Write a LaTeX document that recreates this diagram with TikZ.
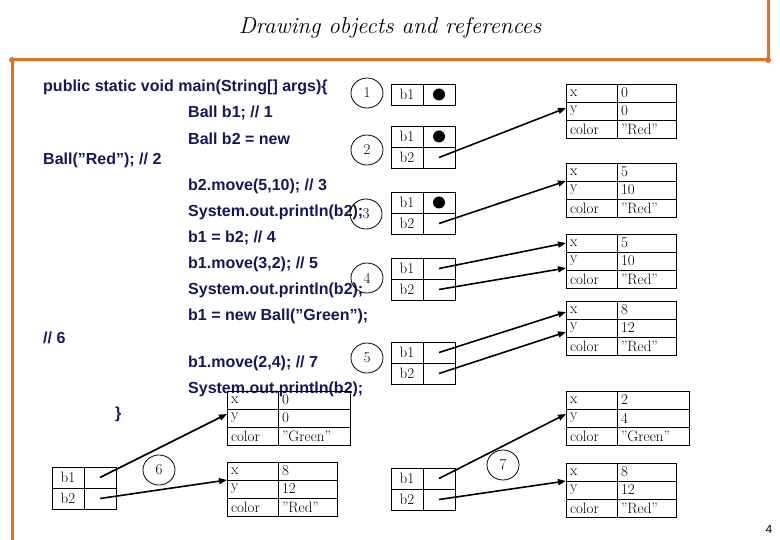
\documentclass[tikz,border=0pt]{standalone}
\usepackage{fontspec}
\usepackage{tikz}
\usetikzlibrary{shapes.geometric, arrows.meta, positioning}
\newfontfamily\codefont{Liberation Sans}
\definecolor{slideorange}{RGB}{230,112,30}
\definecolor{codenavy}{RGB}{22,22,92}

\tikzset{
  frame/.style={draw=slideorange, line width=3pt, line cap=round},
  codeline/.style={anchor=west, inner sep=0pt, text=codenavy, font=\codefont\fontsize{16}{19}\bfseries},
  stepmark/.style={draw, ellipse, line width=0.8pt, minimum width=32pt, minimum height=30pt, inner sep=0pt, font=\fontsize{15}{17}\selectfont},
  varname/.style={draw, line width=0.9pt, outer sep=0pt, inner sep=0pt, minimum width=32pt, minimum height=21pt, font=\fontsize{15}{17}\selectfont},
  varcell/.style={varname},
  dot/.style={circle, fill=black, inner sep=0pt, minimum size=12pt},
  fieldname/.style={draw, line width=0.9pt, outer sep=0pt, inner xsep=4pt, inner ysep=0pt, minimum height=18pt, text width=43pt, align=left, font=\fontsize{15}{17}\selectfont},
  fieldval/.style={fieldname},
  ptr/.style={line width=1.6pt, -{Triangle[length=8pt,width=6pt]}}
}

% one Ball object: name, top left corner, text width of value column, x, y, color
\newcommand{\ballobj}[7]{%
  \node[fieldname, anchor=north west] (#1x) at (#2,#3) {x};
  \node[fieldname, below=0pt of #1x] (#1y) {y};
  \node[fieldname, below=0pt of #1y] (#1c) {color};
  \node[fieldval, text width=#4, right=0pt of #1x] (#1xv) {#5};
  \node[fieldval, text width=#4, right=0pt of #1y] (#1yv) {#6};
  \node[fieldval, text width=#4, right=0pt of #1c] (#1cv) {#7};
}
% the two references b1, b2: name, top left corner
\newcommand{\varbox}[3]{%
  \node[varname, anchor=north west] (#1n1) at (#2,#3) {b1};
  \node[varname, below=0pt of #1n1] (#1n2) {b2};
  \node[varcell, right=0pt of #1n1] (#1b1) {};
  \node[varcell, right=0pt of #1n2] (#1b2) {};
}

\begin{document}
\begin{tikzpicture}[x=1pt, y=-1pt]
  \useasboundingbox (0,0) rectangle (780,540);

  % title and slide frame
  \node[font=\fontsize{23}{27}\itshape] (title) at (390,28) {Drawing objects and references};
  \draw[frame] (12,540) -- (12,60) -- (768,60) -- (768,0);
  \fill[slideorange] (12,60) circle (3pt) (768,60) circle (3pt);

  % the program
  \node[codeline] (c1) at (43,87) {public static void main(String[] args)\{};
  \node[codeline] (c2) at (188,113) {Ball b1; // 1};
  \node[codeline] (c3) at (188,139) {Ball b2 = new};
  \node[codeline] (c4) at (43,160) {Ball(”Red”); // 2};
  \node[codeline] (c5) at (188,186) {b2.move(5,10); // 3};
  \node[codeline] (c6) at (188,212) {System.out.println(b2);};
  \node[codeline] (c7) at (188,238) {b1 = b2; // 4};
  \node[codeline] (c8) at (188,264) {b1.move(3,2); // 5};
  \node[codeline] (c9) at (188,290) {System.out.println(b2);};
  \node[codeline] (c10) at (188,316) {b1 = new Ball(”Green”);};
  \node[codeline] (c11) at (43,338) {// 6};
  \node[codeline] (c12) at (188,363) {b1.move(2,4); // 7};
  \node[codeline] (c13) at (188,389) {System.out.println(b2);};
  \node[codeline] (c14) at (115,414) {\}};

  % step numbers
  \node[stepmark] (s1) at (367,93) {1};
  \node[stepmark] (s2) at (367,150) {2};
  \node[stepmark] (s3) at (366,214) {3};
  \node[stepmark] (s4) at (367,278) {4};
  \node[stepmark] (s5) at (367,358) {5};
  \node[stepmark] (s6) at (159,470) {6};
  \node[stepmark] (s7) at (503,465) {7};

  % references
  \node[varname, anchor=north west] (t1n1) at (391,84) {b1};
  \node[varcell, right=0pt of t1n1] (t1b1) {};
  \node[dot] (d1) at (t1b1) {};
  \varbox{t2}{391}{126}
  \node[dot] (d2) at (t2b1) {};
  \varbox{t3}{391}{192}
  \node[dot] (d3) at (t3b1) {};
  \varbox{t4}{391}{258}
  \varbox{t5}{391}{342}
  \varbox{t6}{52}{467}
  \varbox{t7}{391}{468}

  % objects
  \ballobj{o1}{566}{84}{51pt}{0}{0}{”Red”}
  \ballobj{o2}{566}{163}{51pt}{5}{10}{”Red”}
  \ballobj{o3}{566}{234}{51pt}{5}{10}{”Red”}
  \ballobj{o4}{566}{301}{51pt}{8}{12}{”Red”}
  \ballobj{o5}{566}{391}{64pt}{2}{4}{”Green”}
  \ballobj{o6}{566}{463}{51pt}{8}{12}{”Red”}
  \ballobj{o7}{227}{391}{64pt}{0}{0}{”Green”}
  \ballobj{o8}{227}{462}{51pt}{8}{12}{”Red”}

  % pointers
  \draw[ptr] (t2b2.center) -- ([yshift=3pt]o1y.west);
  \draw[ptr] (t3b2.center) -- (o2x.south west);
  \draw[ptr] (t4b1.center) -- (o3x.west);
  \draw[ptr] (t4b2.center) -- ([yshift=2pt]o3y.south west);
  \draw[ptr] (t5b1.center) -- ([yshift=-2pt]o4x.west);
  \draw[ptr] (t5b2.center) -- ([yshift=-4pt]o4y.west);
  \draw[ptr] (t7b1.center) -- ([yshift=4pt]o5y.west);
  \draw[ptr] (t7b2.center) -- (o6x.south west);
  \draw[ptr] (t6b1.center) -- ([yshift=4pt]o7y.west);
  \draw[ptr] (t6b2.center) -- (o8x.south west);

  \node[font=\codefont\fontsize{12}{14}\selectfont] (pagenum) at (769,529) {4};
\end{tikzpicture}
\end{document}
